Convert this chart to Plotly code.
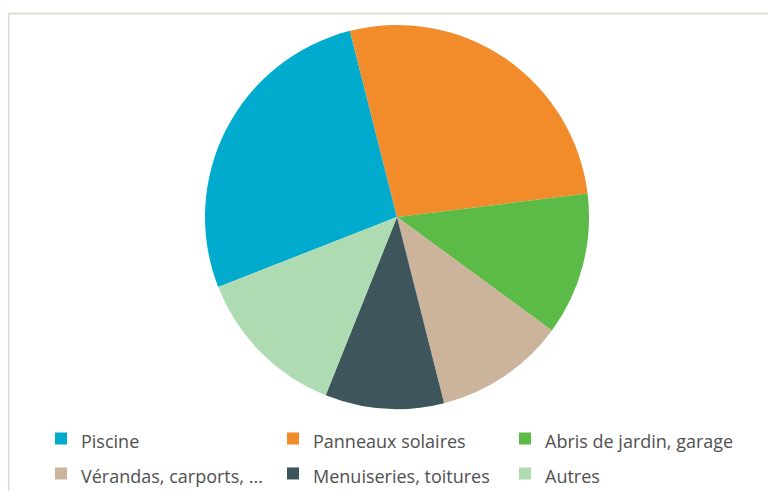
import plotly.graph_objects as go

labels = ["Piscine", "Panneaux solaires", "Abris de jardin, garage",
          "Vérandas, carports, ...", "Menuiseries, toitures", "Autres"]
values = [27, 27, 12, 11, 10, 13]
colors = ["#00ABCD", "#F28C2B", "#5CBA47", "#CBB39C", "#3E565B", "#AEDBB1"]

# page is offset by the browser's 8px body margin
OFF = 8
W, H = 776 - OFF, 491 - OFF


def px(x):
    return (x - OFF) / W


def py(y):
    return 1 - (y - OFF) / H


legend_labels = ['<span style="font-size:18px">%s</span>' % t for t in labels]

fig = go.Figure(go.Pie(
    labels=legend_labels,
    values=values,
    sort=False,
    direction="clockwise",
    rotation=248.6,
    marker=dict(colors=colors, line=dict(width=0)),
    textinfo="none",
    hoverinfo="label+percent",
    domain=dict(x=[px(205), px(589)], y=[py(409), py(25)]),
))

fig.update_layout(
    width=W, height=H,
    margin=dict(l=0, r=0, t=0, b=0, autoexpand=False),
    paper_bgcolor="white",
    showlegend=True,
    legend=dict(
        orientation="h",
        x=px(41), xanchor="left",
        y=py(416), yanchor="top",
        entrywidth=187, entrywidthmode="pixels",
        font=dict(family="Open Sans", size=24.6, color="#505050"),
        traceorder="normal",
    ),
    shapes=[dict(type="line", xref="paper", yref="paper",
                 x0=px(8.5), x1=1, y0=py(13.5), y1=py(13.5),
                 line=dict(color="#E6DACD", width=2)),
            dict(type="line", xref="paper", yref="paper",
                 x0=px(8.5), x1=px(8.5), y0=py(13.5), y1=0,
                 line=dict(color="#E6DACD", width=2))],
)

fig.write_html("out.html")
